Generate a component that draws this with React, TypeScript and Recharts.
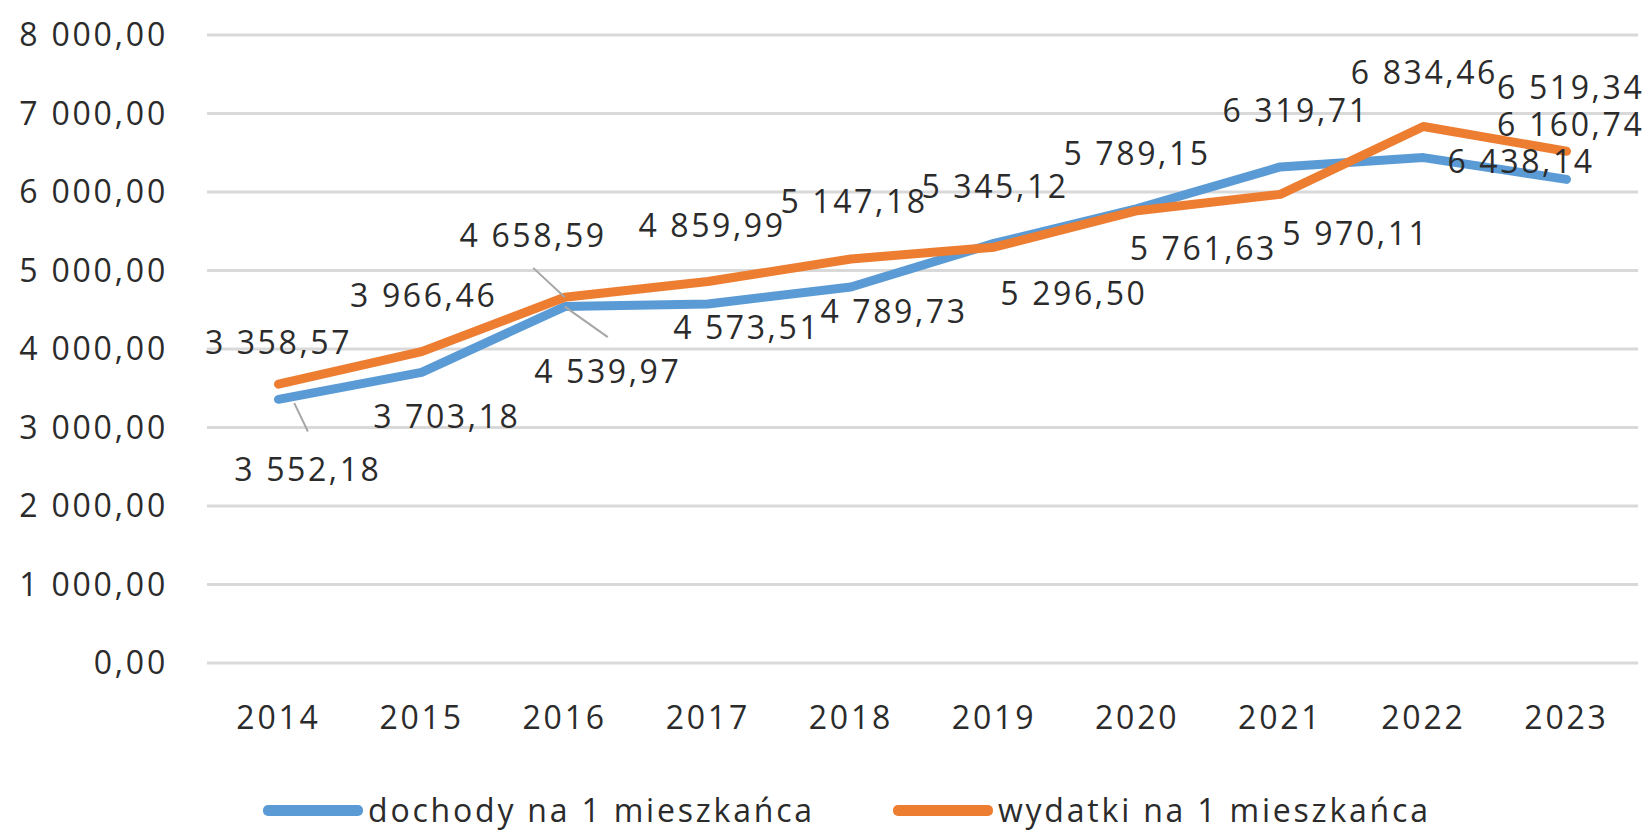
import { LineChart, Line, XAxis, YAxis, CartesianGrid, LabelList } from 'recharts';

const years = ['2014', '2015', '2016', '2017', '2018', '2019', '2020', '2021', '2022', '2023'];
const dochody = [3358.57, 3703.18, 4539.97, 4573.51, 4789.73, 5345.12, 5789.15, 6319.71, 6438.14, 6160.74];
const wydatki = [3552.18, 3966.46, 4658.59, 4859.99, 5147.18, 5296.5, 5761.63, 5970.11, 6834.46, 6519.34];
const yTicks = [0, 1000, 2000, 3000, 4000, 5000, 6000, 7000, 8000];
const seriesNames = ['dochody na 1 mieszkańca', 'wydatki na 1 mieszkańca'];
const seriesColors = ['#5b9bd5', '#ed7d31'];

// label placement (px, measured on the shrunk reference, scaled below)
const K = 1648 / 1568;
const dochodyLabelPos = [[0, -55], [24, 41], [41, 61], [37, 21], [41, 22], [1, -55], [0, -53], [15, -55], [93, 3], [4, -53]];
const wydatkiLabelPos = [[28, 80], [2, -54], [-30, -60], [4, -54], [3, -56], [76, 43], [63, 35], [72, 36], [1, -52], [4, -62]];
const dochodyLeaders: Record<number, number[]> = { 2: [0, 0, 41, 29] };
const wydatkiLeaders: Record<number, number[]> = { 0: [15, 18, 28, 45], 2: [-30, -28, 0, 0] };

const data = years.map((year, i) => ({ year, dochody: dochody[i], wydatki: wydatki[i] }));

const FONT = "'Open Sans', sans-serif";
const TEXT = '#2b2b2b';

function fmt(v: number) {
  const [int, dec] = v.toFixed(2).split('.');
  return int.replace(/\B(?=(\d{3})+(?!\d))/g, ' ') + ',' + dec;
}

function makeLabel(pos: number[][], leaders: Record<number, number[]>) {
  return (props: any) => {
    const { x, y, index, value } = props;
    const [dx, dy] = pos[index];
    const ld = leaders[index];
    return (
      <g>
        {ld && (
          <line x1={x + ld[0] * K} y1={y + ld[1] * K} x2={x + ld[2] * K} y2={y + ld[3] * K} stroke="#a6a6a6" strokeWidth={2} />
        )}
        <text x={x + dx * K} y={y + dy * K} textAnchor="middle" dominantBaseline="central"
          fontFamily={FONT} fontSize={32} letterSpacing={2.6} fill={TEXT}>
          {fmt(value)}
        </text>
      </g>
    );
  };
}

export default function App() {
  return (
    <div style={{ position: 'absolute', left: 0, top: 0, width: 1648, height: 831, background: '#fff' }}>
      <LineChart width={1648} height={831} data={data} margin={{ top: 35, right: 10, left: 7, bottom: 0 }}>
        <CartesianGrid vertical={false} stroke="#d9d9d9" strokeWidth={3} />
        <XAxis dataKey="year" axisLine={false} tickLine={false} tickSize={0} tickMargin={43} height={168}
          padding={{ left: 71.5, right: 71.5 }}
          tick={{ fontFamily: FONT, fontSize: 32, letterSpacing: 2.8, fill: TEXT }} interval={0} />
        <YAxis domain={[0, 8000]} ticks={yTicks} axisLine={false} tickLine={false} tickSize={0} tickMargin={39} width={200}
          tickFormatter={fmt} tick={{ fontFamily: FONT, fontSize: 32, letterSpacing: 2.8, fill: TEXT }} />
        <Line type="linear" dataKey="dochody" stroke={seriesColors[0]} strokeWidth={9} dot={false}
          strokeLinejoin="round" strokeLinecap="round" isAnimationActive={false}>
          <LabelList dataKey="dochody" content={makeLabel(dochodyLabelPos, dochodyLeaders)} />
        </Line>
        <Line type="linear" dataKey="wydatki" stroke={seriesColors[1]} strokeWidth={9} dot={false}
          strokeLinejoin="round" strokeLinecap="round" isAnimationActive={false}>
          <LabelList dataKey="wydatki" content={makeLabel(wydatkiLabelPos, wydatkiLeaders)} />
        </Line>
      </LineChart>
      <div style={{ position: 'absolute', left: 263, top: 790, display: 'flex', alignItems: 'center', fontFamily: FONT, fontSize: 32, letterSpacing: 2.8, color: TEXT, whiteSpace: 'nowrap', lineHeight: '40px' }}>
        {seriesNames.map((name, i) => (
          <div key={name} style={{ display: 'flex', alignItems: 'center', marginRight: 78 }}>
            <span style={{ display: 'inline-block', width: 100, height: 11, borderRadius: 5, background: seriesColors[i], marginRight: 5 }} />
            <span>{name}</span>
          </div>
        ))}
      </div>
    </div>
  );
}
